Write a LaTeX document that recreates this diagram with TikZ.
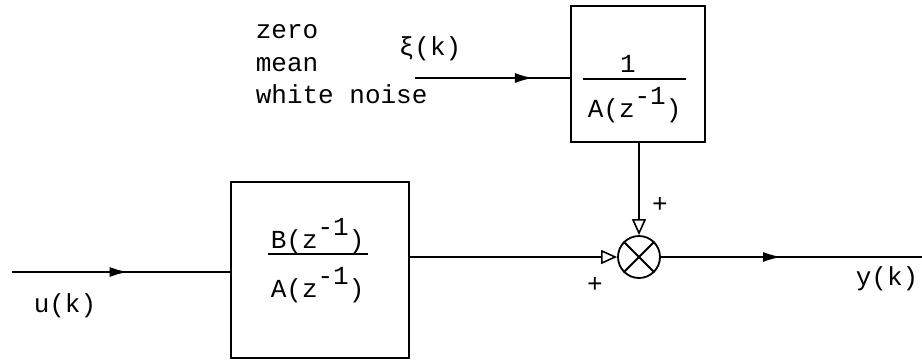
\documentclass[tikz,border=0pt]{standalone}
\usepackage{fontspec}
\setmainfont{Liberation Mono}
\setmonofont{Liberation Mono}
\usetikzlibrary{arrows.meta,decorations.markings}
\newcommand{\supm}{\raisebox{0.5em}{-1}}
\begin{document}
\begin{tikzpicture}[x=1pt,y=-1pt,line width=1.6pt,
  lbl/.style={font=\fontsize{26}{30}\selectfont,inner sep=0pt},
  blk/.style={draw,line width=1.6pt,inner sep=0pt},
  sumnode/.style={draw,circle,line width=1.8pt,minimum size=42pt,inner sep=0pt},
  midarrow/.style={postaction={decorate},decoration={markings,
     mark=at position #1 with {\arrow{Latex[length=18pt,width=10pt]}}}},
  endtri/.style={-{Triangle[open,length=16pt,width=14pt,line width=1.6pt]}},
  fracrule/.style={line width=1.3pt}]
\useasboundingbox (0,0) rectangle (922,362);
% blocks
\node[blk,minimum width=134pt,minimum height=136pt] (h) at (638,74) {};
\node[blk,minimum width=178pt,minimum height=176pt] (g) at (320,270) {};
\node[sumnode] (s) at (639,257) {};
\draw[line width=1.8pt] (s.135) -- (s.-45) (s.45) -- (s.-135);
% fractions
\node[lbl,anchor=base] (hn) at (628,72) {1};
\node[lbl,anchor=base west] (hd) at (587,117) {A(z\supm)};
\draw[fracrule] (583,79) -- (686,79);
\node[lbl,anchor=base west] (gn) at (270,248) {B(z\supm)};
\node[lbl,anchor=base west] (gd) at (270,297) {A(z\supm)};
\draw[fracrule] (268,254) -- (368,254);
% texts
\node[lbl,anchor=base west] (t1) at (255,38) {zero};
\node[lbl,anchor=base west] (t2) at (255,71) {mean};
\node[lbl,anchor=base west] (t3) at (255,103) {white noise};
\node[lbl,anchor=base west] (xi) at (398,55) {ξ(k)};
\node[lbl,anchor=base west] (ul) at (33,312) {u(k)};
\node[lbl,anchor=base west] (yl) at (855,285) {y(k)};
\node[lbl] (p1) at (660,205) {+};
\node[lbl] (p2) at (595,285) {+};
% coordinates
\coordinate (nin) at (415,78);
\coordinate (uin) at (12,272);
\coordinate (yout) at (922,257);
% connectors
\draw[midarrow=0.76] (nin) -- (nin -| h.west);
\draw[midarrow=0.53] (uin) -- (uin -| g.west);
\draw[endtri] (s.west -| g.east) -- (s.west);
\draw[endtri] (h.south -| s.north) -- (s.north);
\draw[midarrow=0.46] (s.east) -- (yout);
\end{tikzpicture}
\end{document}
